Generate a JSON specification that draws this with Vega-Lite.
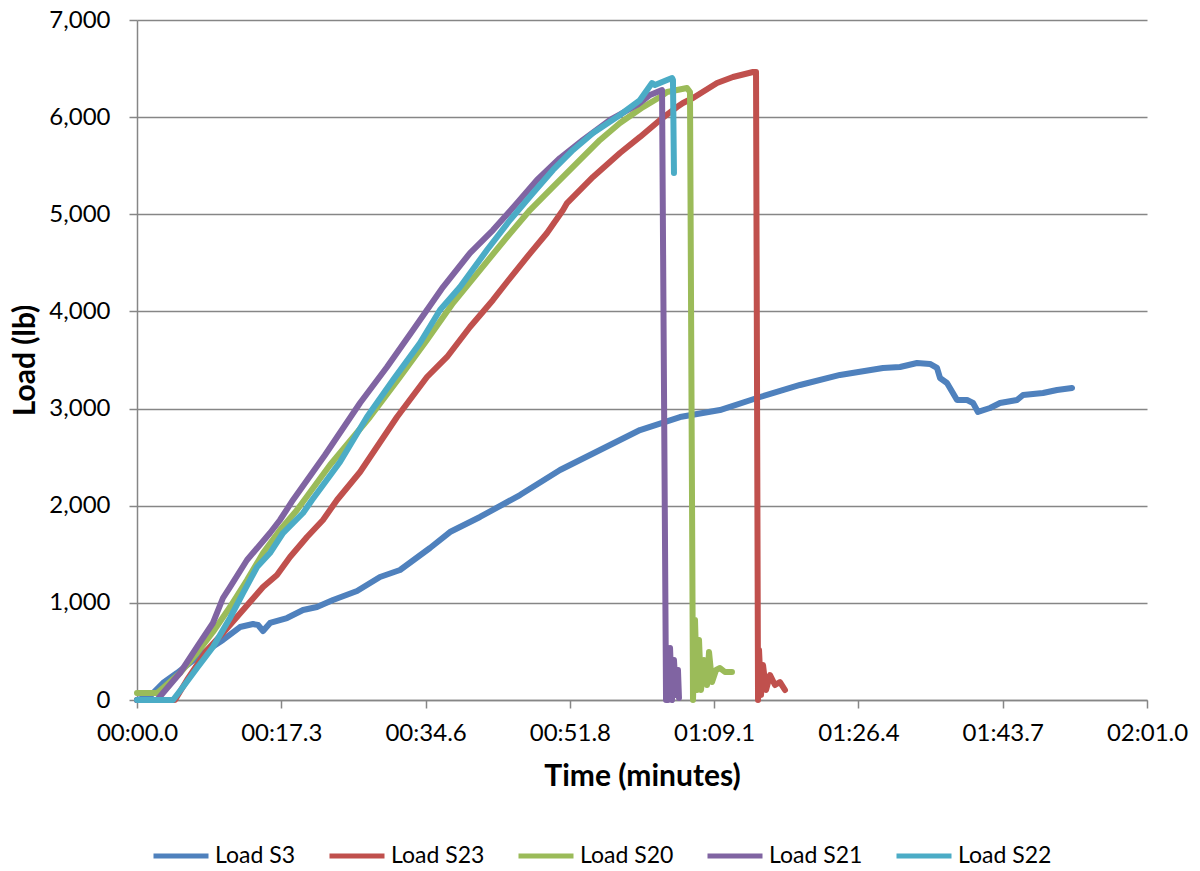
{
  "$schema": "https://vega.github.io/schema/vega-lite/v6.json",
  "width": 1010,
  "height": 680,
  "autosize": {"type": "none"},
  "padding": {"left": 137, "top": 20, "right": 53, "bottom": 171},
  "background": "white",
  "config": {
    "font": "Lato",
    "view": {"stroke": null},
    "axis": {"labelFont": "Lato", "titleFont": "Lato", "labelColor": "#000000", "titleColor": "#000000"}
  },
  "data": {"values": [
    {"s":"Load S3","t":0,"v":0},{"s":"Load S3","t":1.56,"v":41},{"s":"Load S3","t":3.11,"v":175},{"s":"Load S3","t":4.79,"v":278},{"s":"Load S3","t":7.55,"v":463},{"s":"Load S3","t":10.3,"v":618},{"s":"Load S3","t":12.34,"v":751},{"s":"Load S3","t":13.9,"v":782},{"s":"Load S3","t":14.5,"v":772},{"s":"Load S3","t":15.1,"v":710},{"s":"Load S3","t":15.94,"v":793},{"s":"Load S3","t":17.97,"v":844},{"s":"Load S3","t":19.89,"v":926},{"s":"Load S3","t":21.56,"v":957},{"s":"Load S3","t":23.48,"v":1029},{"s":"Load S3","t":26.36,"v":1122},{"s":"Load S3","t":29.11,"v":1266},{"s":"Load S3","t":31.51,"v":1338},{"s":"Load S3","t":35.1,"v":1565},{"s":"Load S3","t":37.49,"v":1729},{"s":"Load S3","t":41.09,"v":1884},{"s":"Load S3","t":45.88,"v":2110},{"s":"Load S3","t":50.68,"v":2368},{"s":"Load S3","t":55.47,"v":2574},{"s":"Load S3","t":60.26,"v":2779},{"s":"Load S3","t":65.05,"v":2913},{"s":"Load S3","t":69.84,"v":2985},{"s":"Load S3","t":74.64,"v":3119},{"s":"Load S3","t":79.43,"v":3243},{"s":"Load S3","t":84.22,"v":3346},{"s":"Load S3","t":89.37,"v":3418},{"s":"Load S3","t":91.41,"v":3428},{"s":"Load S3","t":93.45,"v":3469},{"s":"Load S3","t":95.0,"v":3459},{"s":"Load S3","t":95.84,"v":3418},{"s":"Load S3","t":96.2,"v":3315},{"s":"Load S3","t":97.04,"v":3263},{"s":"Load S3","t":98.24,"v":3088},{"s":"Load S3","t":99.44,"v":3088},{"s":"Load S3","t":100.16,"v":3057},{"s":"Load S3","t":100.75,"v":2965},{"s":"Load S3","t":102.19,"v":3006},{"s":"Load S3","t":103.39,"v":3057},{"s":"Load S3","t":105.43,"v":3088},{"s":"Load S3","t":106.15,"v":3140},{"s":"Load S3","t":108.54,"v":3160},{"s":"Load S3","t":110.22,"v":3191},{"s":"Load S3","t":112.02,"v":3212},
    {"s":"Load S23","t":0,"v":0},{"s":"Load S23","t":4.55,"v":0},{"s":"Load S23","t":5.99,"v":206},{"s":"Load S23","t":8.39,"v":515},{"s":"Load S23","t":10.3,"v":690},{"s":"Load S23","t":12.7,"v":926},{"s":"Load S23","t":15.1,"v":1163},{"s":"Load S23","t":16.77,"v":1287},{"s":"Load S23","t":18.33,"v":1472},{"s":"Load S23","t":20.37,"v":1678},{"s":"Load S23","t":22.28,"v":1853},{"s":"Load S23","t":23.96,"v":2059},{"s":"Load S23","t":26.72,"v":2347},{"s":"Load S23","t":31.15,"v":2913},{"s":"Load S23","t":34.74,"v":3325},{"s":"Load S23","t":37.14,"v":3531},{"s":"Load S23","t":39.89,"v":3840},{"s":"Load S23","t":42.65,"v":4118},{"s":"Load S23","t":44.33,"v":4303},{"s":"Load S23","t":46.72,"v":4560},{"s":"Load S23","t":49.12,"v":4807},{"s":"Load S23","t":51.04,"v":5044},{"s":"Load S23","t":51.52,"v":5116},{"s":"Load S23","t":54.63,"v":5384},{"s":"Load S23","t":57.86,"v":5631},{"s":"Load S23","t":60.26,"v":5796},{"s":"Load S23","t":62.66,"v":5971},{"s":"Load S23","t":64.69,"v":6104},{"s":"Load S23","t":65.41,"v":6146},{"s":"Load S23","t":66.61,"v":6197},{"s":"Load S23","t":69.49,"v":6351},{"s":"Load S23","t":71.4,"v":6413},{"s":"Load S23","t":73.8,"v":6465},{"s":"Load S23","t":74.16,"v":6465},{"s":"Load S23","t":74.4,"v":0},{"s":"Load S23","t":74.52,"v":515},{"s":"Load S23","t":74.76,"v":51},{"s":"Load S23","t":75.0,"v":360},{"s":"Load S23","t":75.36,"v":103},{"s":"Load S23","t":75.84,"v":257},{"s":"Load S23","t":76.43,"v":154},{"s":"Load S23","t":77.03,"v":185},{"s":"Load S23","t":77.63,"v":103},
    {"s":"Load S20","t":0,"v":72},{"s":"Load S20","t":2.4,"v":72},{"s":"Load S20","t":3.11,"v":124},{"s":"Load S20","t":5.15,"v":278},{"s":"Load S20","t":7.19,"v":484},{"s":"Load S20","t":9.1,"v":700},{"s":"Load S20","t":11.14,"v":957},{"s":"Load S20","t":13.18,"v":1235},{"s":"Load S20","t":15.1,"v":1513},{"s":"Load S20","t":17.13,"v":1750},{"s":"Load S20","t":19.17,"v":1956},{"s":"Load S20","t":23.12,"v":2419},{"s":"Load S20","t":27.91,"v":2913},{"s":"Load S20","t":31.51,"v":3325},{"s":"Load S20","t":34.74,"v":3706},{"s":"Load S20","t":37.86,"v":4087},{"s":"Load S20","t":41.09,"v":4426},{"s":"Load S20","t":44.33,"v":4766},{"s":"Load S20","t":47.08,"v":5044},{"s":"Load S20","t":49.84,"v":5281},{"s":"Load S20","t":52.71,"v":5528},{"s":"Load S20","t":55.47,"v":5765},{"s":"Load S20","t":57.86,"v":5940},{"s":"Load S20","t":60.62,"v":6104},{"s":"Load S20","t":62.66,"v":6207},{"s":"Load S20","t":63.5,"v":6259},{"s":"Load S20","t":65.89,"v":6300},{"s":"Load S20","t":66.25,"v":6259},{"s":"Load S20","t":66.61,"v":0},{"s":"Load S20","t":66.85,"v":824},{"s":"Load S20","t":67.09,"v":103},{"s":"Load S20","t":67.33,"v":618},{"s":"Load S20","t":67.57,"v":103},{"s":"Load S20","t":67.93,"v":412},{"s":"Load S20","t":68.29,"v":154},{"s":"Load S20","t":68.53,"v":494},{"s":"Load S20","t":68.89,"v":185},{"s":"Load S20","t":69.37,"v":309},{"s":"Load S20","t":69.84,"v":329},{"s":"Load S20","t":70.44,"v":288},{"s":"Load S20","t":71.28,"v":288},
    {"s":"Load S21","t":0,"v":0},{"s":"Load S21","t":2.4,"v":0},{"s":"Load S21","t":3.11,"v":72},{"s":"Load S21","t":5.15,"v":278},{"s":"Load S21","t":7.19,"v":546},{"s":"Load S21","t":9.1,"v":793},{"s":"Load S21","t":10.3,"v":1050},{"s":"Load S21","t":11.14,"v":1163},{"s":"Load S21","t":13.18,"v":1441},{"s":"Load S21","t":15.93,"v":1719},{"s":"Load S21","t":17.13,"v":1853},{"s":"Load S21","t":18.69,"v":2059},{"s":"Load S21","t":22.52,"v":2522},{"s":"Load S21","t":26.72,"v":3057},{"s":"Load S21","t":29.95,"v":3428},{"s":"Load S21","t":33.07,"v":3809},{"s":"Load S21","t":36.66,"v":4251},{"s":"Load S21","t":39.89,"v":4601},{"s":"Load S21","t":42.65,"v":4838},{"s":"Load S21","t":45.53,"v":5116},{"s":"Load S21","t":47.92,"v":5353},{"s":"Load S21","t":50.68,"v":5579},{"s":"Load S21","t":53.43,"v":5765},{"s":"Load S21","t":56.67,"v":5971},{"s":"Load S21","t":59.9,"v":6125},{"s":"Load S21","t":61.46,"v":6228},{"s":"Load S21","t":62.9,"v":6279},{"s":"Load S21","t":63.38,"v":0},{"s":"Load S21","t":63.62,"v":0},{"s":"Load S21","t":63.86,"v":535},{"s":"Load S21","t":64.09,"v":0},{"s":"Load S21","t":64.33,"v":412},{"s":"Load S21","t":64.57,"v":51},{"s":"Load S21","t":64.81,"v":309},{"s":"Load S21","t":64.93,"v":21},
    {"s":"Load S22","t":0,"v":0},{"s":"Load S22","t":4.31,"v":0},{"s":"Load S22","t":5.51,"v":134},{"s":"Load S22","t":7.19,"v":329},{"s":"Load S22","t":9.1,"v":546},{"s":"Load S22","t":11.14,"v":844},{"s":"Load S22","t":12.7,"v":1101},{"s":"Load S22","t":14.38,"v":1369},{"s":"Load S22","t":15.93,"v":1513},{"s":"Load S22","t":17.49,"v":1719},{"s":"Load S22","t":19.89,"v":1925},{"s":"Load S22","t":20.97,"v":2059},{"s":"Load S22","t":24.32,"v":2450},{"s":"Load S22","t":27.55,"v":2913},{"s":"Load S22","t":30.67,"v":3294},{"s":"Load S22","t":33.9,"v":3675},{"s":"Load S22","t":36.3,"v":4015},{"s":"Load S22","t":38.7,"v":4251},{"s":"Load S22","t":41.93,"v":4632},{"s":"Load S22","t":44.69,"v":4941},{"s":"Load S22","t":47.44,"v":5219},{"s":"Load S22","t":49.84,"v":5456},{"s":"Load S22","t":52.24,"v":5662},{"s":"Load S22","t":54.63,"v":5837},{"s":"Load S22","t":57.86,"v":6022},{"s":"Load S22","t":60.26,"v":6176},{"s":"Load S22","t":61.7,"v":6351},{"s":"Load S22","t":62.05,"v":6331},{"s":"Load S22","t":63.5,"v":6382},{"s":"Load S22","t":64.1,"v":6403},{"s":"Load S22","t":64.21,"v":6382},{"s":"Load S22","t":64.33,"v":5425}
  ]},
  "mark": {"type": "line", "strokeWidth": 6, "strokeJoin": "round", "strokeCap": "round", "clip": false},
  "encoding": {
    "x": {
      "field": "t", "type": "quantitative",
      "scale": {"domain": [0, 121], "nice": false, "zero": false},
      "axis": {
        "values": [0, 17.2857, 34.5714, 51.8571, 69.1429, 86.4286, 103.7143, 121],
        "labelExpr": "['00:00.0','00:17.3','00:34.6','00:51.8','01:09.1','01:26.4','01:43.7','02:01.0'][round(datum.value/17.2857)]",
        "grid": false,
        "domainColor": "#868686", "domainWidth": 1.5,
        "tickColor": "#868686", "tickWidth": 1.5, "tickSize": 8,
        "labelFontSize": 24, "labelPadding": 13, "labelFlush": false, "labelOverlap": false,
        "title": "Time (minutes)", "titleFontSize": 30, "titleFontWeight": "bold", "titlePadding": 16
      }
    },
    "y": {
      "field": "v", "type": "quantitative",
      "scale": {"domain": [0, 7000], "nice": false},
      "axis": {
        "values": [0, 1000, 2000, 3000, 4000, 5000, 6000, 7000],
        "format": ",.0f",
        "grid": true, "gridColor": "#868686", "gridWidth": 1.5,
        "domainColor": "#868686", "domainWidth": 1.5,
        "tickColor": "#868686", "tickWidth": 1.5, "tickSize": 8,
        "labelFontSize": 24, "labelPadding": 19,
        "title": "Load (lb)", "titleFontSize": 30, "titleFontWeight": "bold", "titlePadding": 8
      }
    },
    "color": {
      "field": "s", "type": "nominal",
      "scale": {
        "domain": ["Load S3", "Load S23", "Load S20", "Load S21", "Load S22"],
        "range": ["#4F81BD", "#C0504D", "#9BBB59", "#8064A2", "#4BACC6"]
      },
      "legend": {
        "title": null,
        "orient": "none",
        "direction": "horizontal",
        "columns": 5,
        "legendX": 14,
        "legendY": 806,
        "padding": 0,
        "symbolType": "stroke",
        "symbolSize": 3025,
        "symbolStrokeWidth": 5,
        "labelFontSize": 23,
        "labelFont": "Lato",
        "labelColor": "#000000",
        "labelOffset": 4,
        "columnPadding": 23,
        "labelLimit": 300
      }
    }
  }
}
